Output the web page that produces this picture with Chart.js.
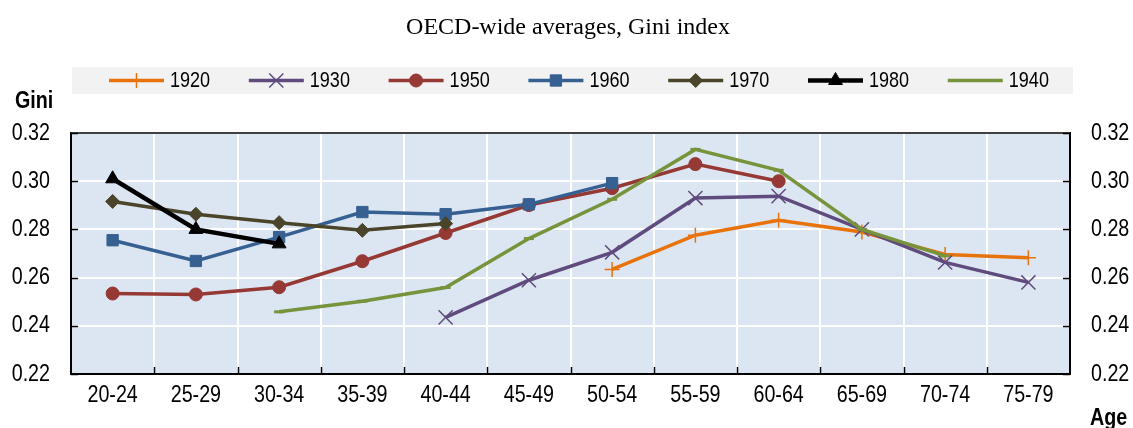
<!DOCTYPE html>
<html>
<head>
<meta charset="utf-8">
<script src="https://cdn.jsdelivr.net/npm/chart.js@4/dist/chart.umd.min.js"></script>
<style>
  html, body { margin: 0; padding: 0; background: #fff; }
  #wrap { width: 1133px; height: 428px; position: relative; }
</style>
</head>
<body>
<div id="wrap"><canvas id="grafico"></canvas></div>
<script>
// dados
const faixas = ['20-24', '25-29', '30-34', '35-39', '40-44', '45-49', '50-54', '55-59', '60-64', '65-69', '70-74', '75-79'];
const giniTicks = [0.22, 0.24, 0.26, 0.28, 0.30, 0.32];

const coorte1920 = [null, null, null, null, null, null, 0.2634, 0.2776, 0.2838, 0.2789, 0.2696, 0.2682];
const coorte1930 = [null, null, null, null, 0.2435, 0.2589, 0.2705, 0.2930, 0.2938, 0.2800, 0.2663, 0.2580];
const coorte1950 = [0.2534, 0.2530, 0.2560, 0.2668, 0.2785, 0.2901, 0.2971, 0.3071, 0.3000, null, null, null];
const coorte1960 = [0.2755, 0.2669, 0.2768, 0.2872, 0.2863, 0.2904, 0.2992, null, null, null, null, null];
const coorte1970 = [0.2916, 0.2863, 0.2828, 0.2796, 0.2824, null, null, null, null, null, null, null];
const coorte1980 = [0.3010, 0.2800, 0.2740, null, null, null, null, null, null, null, null, null];
const coorte1940 = [null, null, 0.2458, 0.2502, 0.2559, 0.2762, 0.2925, 0.3132, 0.3045, 0.2800, 0.2690, null];

const FONTE = "'Liberation Sans', Arial, sans-serif";
const ESTREITO = 0.82; // imita Arial Narrow

const series = [
  { label: '1920', data: coorte1920, cor: '#e8720c', estilo: 'cross', raio: 7.5, borda: 1.5, largura: 3.5 },
  { label: '1930', data: coorte1930, cor: '#5f4b7d', estilo: 'crossRot', raio: 10, borda: 1.5, largura: 3.5 },
  { label: '1950', data: coorte1950, cor: '#963834', estilo: 'circle', raio: 6.5, borda: 1, largura: 3.5 },
  { label: '1960', data: coorte1960, cor: '#366092', estilo: 'rect', raio: 8, borda: 1, largura: 3.5 },
  { label: '1970', data: coorte1970, cor: '#4a452a', estilo: 'rectRot', raio: 7, borda: 1, largura: 3.5 },
  { label: '1980', data: coorte1980, cor: '#000000', estilo: 'triangle', raio: 8, borda: 1, largura: 4.5 },
  { label: '1940', data: coorte1940, cor: '#77933c', estilo: 'line', raio: 5, borda: 3, largura: 3.5 }
];

const n = series.length;
const datasets = series.map((s, i) => ({
  label: s.label,
  data: s.data,
  borderColor: s.cor,
  backgroundColor: s.cor,
  borderWidth: s.largura,
  pointStyle: s.estilo,
  pointRadius: s.raio,
  pointBorderWidth: s.borda,
  pointBackgroundColor: s.cor,
  pointBorderColor: s.cor,
  tension: 0,
  order: n - i
}));

// texto condensado horizontalmente
function texto(ctx, txt, x, y, alinhamento, tamanho, negrito) {
  ctx.save();
  ctx.font = (negrito ? 'bold ' : '') + tamanho + 'px ' + FONTE;
  ctx.textAlign = alinhamento;
  ctx.textBaseline = 'middle';
  ctx.fillStyle = '#000';
  ctx.translate(x, y);
  ctx.scale(ESTREITO, 1);
  ctx.fillText(txt, 0, 0);
  ctx.restore();
}

// fundo azul da área do gráfico
const pluginFundo = {
  id: 'pluginFundo',
  beforeDraw(chart) {
    const { ctx, chartArea: a } = chart;
    ctx.save();
    ctx.fillStyle = '#dce6f2';
    ctx.fillRect(a.left, a.top, a.right - a.left, a.bottom - a.top);
    ctx.restore();
  }
};

// título, legenda, rótulos dos eixos e marcas internas
const pluginExtras = {
  id: 'pluginExtras',
  afterDraw(chart) {
    const { ctx, chartArea: a, scales: { x, y } } = chart;
    ctx.save();

    // borda superior
    ctx.strokeStyle = '#404040';
    ctx.lineWidth = 2;
    ctx.beginPath();
    ctx.moveTo(a.left, a.top);
    ctx.lineTo(a.right, a.top);
    ctx.stroke();

    // marcas internas
    ctx.strokeStyle = '#000';
    ctx.lineWidth = 1.5;
    ctx.beginPath();
    giniTicks.forEach(v => {
      const py = Math.round(y.getPixelForValue(v)) + 0.5;
      ctx.moveTo(a.left, py); ctx.lineTo(a.left + 7, py);
      ctx.moveTo(a.right - 7, py); ctx.lineTo(a.right, py);
    });
    for (let i = 1; i < faixas.length; i++) {
      const px = Math.round((x.getPixelForValue(i) + x.getPixelForValue(i - 1)) / 2) + 0.5;
      ctx.moveTo(px, a.bottom); ctx.lineTo(px, a.bottom - 7);
    }
    ctx.stroke();

    // rótulos dos ticks
    giniTicks.forEach(v => {
      const py = y.getPixelForValue(v);
      texto(ctx, v.toFixed(2), 50, py, 'right', 24);
      texto(ctx, v.toFixed(2), 1091, py, 'left', 24);
    });
    faixas.forEach((f, i) => texto(ctx, f, x.getPixelForValue(i), 395, 'center', 24));

    // título
    ctx.fillStyle = '#000';
    ctx.textAlign = 'center';
    ctx.textBaseline = 'middle';
    ctx.font = "24px 'Liberation Serif', 'Times New Roman', serif";
    ctx.fillText('OECD-wide averages, Gini index', 568, 28);

    // nomes dos eixos
    texto(ctx, 'Gini', 15, 101, 'left', 24, true);
    texto(ctx, 'Age', 1090, 418, 'left', 24, true);

    // legenda
    ctx.fillStyle = '#f2f2f2';
    ctx.fillRect(72, 67, 1001, 27);
    chart.data.datasets.forEach((d, i) => {
      const x0 = 109 + i * 139.8;
      const ly = 80.5;
      ctx.strokeStyle = d.borderColor;
      ctx.lineWidth = d.borderWidth;
      ctx.beginPath();
      ctx.moveTo(x0, ly);
      ctx.lineTo(x0 + 55, ly);
      ctx.stroke();
      if (d.pointStyle !== 'line') {
        ctx.fillStyle = d.pointBackgroundColor;
        ctx.strokeStyle = d.pointBorderColor;
        ctx.lineWidth = d.pointBorderWidth;
        Chart.helpers.drawPoint(ctx, { pointStyle: d.pointStyle, radius: d.pointRadius, rotation: 0, borderWidth: d.pointBorderWidth }, x0 + 27.5, ly);
      }
      texto(ctx, d.label, x0 + 61, ly, 'left', 22);
    });
    ctx.restore();
  }
};

const eixoY = (posicao, largura) => ({
  type: 'linear',
  position: posicao,
  min: 0.22,
  max: 0.32,
  afterBuildTicks: s => { s.ticks = giniTicks.map(v => ({ value: v })); },
  afterFit: s => { s.width = largura; },
  grid: {
    display: posicao === 'left',
    drawOnChartArea: posicao === 'left',
    color: '#ffffff',
    lineWidth: 2,
    drawTicks: false
  },
  border: { display: true, color: '#000', width: 2 },
  ticks: { display: false }
});

new Chart(document.getElementById('grafico'), {
  type: 'line',
  data: { labels: faixas, datasets: datasets },
  options: {
    responsive: true,
    maintainAspectRatio: false,
    animation: false,
    layout: { padding: { top: 133, left: 0, right: 0, bottom: 0 } },
    plugins: {
      legend: { display: false },
      title: { display: false },
      tooltip: { enabled: false }
    },
    scales: {
      x: {
        offset: true,
        afterFit: s => { s.height = 54; },
        grid: { offset: true, color: '#ffffff', lineWidth: 2, drawTicks: false },
        border: { color: '#000', width: 2 },
        ticks: { display: false }
      },
      y: eixoY('left', 71),
      y2: eixoY('right', 63)
    }
  },
  plugins: [pluginFundo, pluginExtras]
});
</script>
</body>
</html>
